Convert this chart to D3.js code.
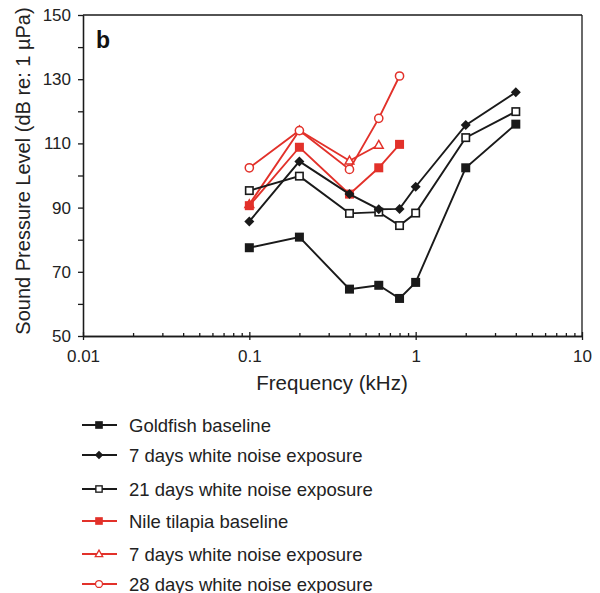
<!DOCTYPE html>
<html>
<head>
<meta charset="utf-8">
<script src="https://cdn.jsdelivr.net/npm/d3@7"></script>
<style>
  body { margin: 0; background: #fff; }
  svg { font-family: "Liberation Sans", Arial, sans-serif; }
  .axis path, .axis line { stroke: #1a1a1a; stroke-width: 1.3; }
  .axis text { font-size: 17px; fill: #222; }
</style>
</head>
<body>
<svg id="chart"></svg>
<script>
// frequencies (kHz)
let freqGold = [0.1, 0.2, 0.4, 0.6, 0.8, 1, 2, 4];
let freqTilapia = [0.1, 0.2, 0.4, 0.6, 0.8];
let freqTil7 = [0.1, 0.2, 0.4, 0.6];

// thresholds (dB re: 1 µPa)
let goldBaseline = [77.5, 80.8, 64.6, 65.8, 61.7, 66.7, 102.4, 116];
let gold7days = [85.7, 104.4, 94.2, 89.5, 89.6, 96.5, 115.7, 125.9];
let gold21days = [95.3, 99.8, 88.2, 88.6, 84.4, 88.3, 111.8, 119.9];
let tilBaseline = [90.6, 108.8, 94.2, 102.4, 109.7];
let til7days = [91, 114, 104.6, 109.5];
let til28days = [102.4, 114, 101.9, 117.8, 131];

let legendNames = ["Goldfish baseline", "7 days white noise exposure", "21 days white noise exposure",
                   "Nile tilapia baseline", "7 days white noise exposure", "28 days white noise exposure"];

let xMajor = [0.01, 0.1, 1, 10];
let yMajor = [50, 70, 90, 110, 130, 150];

let black = "#1a1a1a", red = "#e2312a";

let series = [
  { name: legendNames[0], f: freqGold, v: goldBaseline, color: black, marker: "fsquare" },
  { name: legendNames[1], f: freqGold, v: gold7days, color: black, marker: "diamond" },
  { name: legendNames[2], f: freqGold, v: gold21days, color: black, marker: "osquare" },
  { name: legendNames[3], f: freqTilapia, v: tilBaseline, color: red, marker: "fsquare" },
  { name: legendNames[4], f: freqTil7, v: til7days, color: red, marker: "triangle" },
  { name: legendNames[5], f: freqTilapia, v: til28days, color: red, marker: "circle" }
];
// paint order: red series under the black ones, tilapia baseline over its exposures
let drawOrder = [4, 5, 3, 2, 1, 0];

function drawMarker(g, type, color) {
  if (type === "fsquare") {
    g.append("rect").attr("x", -4.5).attr("y", -4.5).attr("width", 9).attr("height", 9)
      .attr("fill", color);
  } else if (type === "osquare") {
    g.append("rect").attr("x", -3.7).attr("y", -3.7).attr("width", 7.4).attr("height", 7.4)
      .attr("fill", "#fff").attr("stroke", color).attr("stroke-width", 1.6);
  } else if (type === "diamond") {
    g.append("path").attr("d", "M0,-5L5,0L0,5L-5,0Z").attr("fill", color);
  } else if (type === "triangle") {
    g.append("path").attr("d", "M0,-4.6L4.4,3.2L-4.4,3.2Z")
      .attr("fill", "#fff").attr("stroke", color).attr("stroke-width", 1.5);
  } else if (type === "circle") {
    g.append("circle").attr("r", 4.1)
      .attr("fill", "#fff").attr("stroke", color).attr("stroke-width", 1.5);
  }
}

function createChart() {
  let w = 600, h = 593;
  let svg = d3.select("#chart").attr("width", w).attr("height", h);

  let x = d3.scaleLog().domain([0.01, 10]).range([83, 582]);
  let y = d3.scaleLinear().domain([50, 150]).range([336, 15]);

  // box
  svg.append("line").attr("x1", 83).attr("x2", 582).attr("y1", 15).attr("y2", 15)
    .attr("stroke", black).attr("stroke-width", 1.3);
  svg.append("line").attr("x1", 582).attr("x2", 582).attr("y1", 15).attr("y2", 336)
    .attr("stroke", black).attr("stroke-width", 1.3);

  // x axis: minor ticks inside, major ticks crossing
  let minors = [];
  [0.01, 0.1, 1].forEach(d => { for (let k = 2; k <= 9; k++) minors.push(d * k); });
  svg.append("g").attr("class", "axis").attr("transform", "translate(0,336)")
    .call(d3.axisBottom(x).tickValues(minors).tickSizeInner(-3).tickSizeOuter(0).tickFormat(""));
  let xa = svg.append("g").attr("class", "axis").attr("transform", "translate(0,336)")
    .call(d3.axisBottom(x).tickValues(xMajor).tickSizeInner(4).tickSizeOuter(0)
      .tickFormat(d => d3.format("~g")(d)).tickPadding(10));
  xa.selectAll(".tick line").attr("y1", -4);

  // y axis
  let yMinor = d3.range(60, 150, 20);
  svg.append("g").attr("class", "axis").attr("transform", "translate(83,0)")
    .call(d3.axisLeft(y).tickValues(yMinor).tickSizeInner(5).tickSizeOuter(0).tickFormat(""));
  svg.append("g").attr("class", "axis").attr("transform", "translate(83,0)")
    .call(d3.axisLeft(y).tickValues(yMajor).tickSizeInner(5).tickSizeOuter(0).tickPadding(7));

  // axis titles
  svg.append("text").attr("x", 332).attr("y", 390).attr("text-anchor", "middle")
    .attr("font-size", 20.5).attr("fill", "#222").text("Frequency (kHz)");
  svg.append("text").attr("transform", "translate(30,171) rotate(-90)").attr("text-anchor", "middle")
    .attr("font-size", 20).attr("fill", "#222").text("Sound Pressure Level (dB re: 1 µPa)");
  svg.append("text").attr("x", 96).attr("y", 48).attr("font-size", 23).attr("font-weight", "bold")
    .attr("fill", "#111").text("b");

  let line = d3.line().x(d => x(d[0])).y(d => y(d[1]));

  drawOrder.forEach(k => {
    let s = series[k];
    let pts = s.f.map((f, i) => [f, s.v[i]]);
    let g = svg.append("g");
    g.append("path").attr("d", line(pts)).attr("fill", "none")
      .attr("stroke", s.color).attr("stroke-width", 1.9);
    g.selectAll("g.pt").data(pts).enter().append("g").attr("class", "pt")
      .attr("transform", d => `translate(${x(d[0])},${y(d[1])})`)
      .each(function () { drawMarker(d3.select(this), s.marker, s.color); });
  });

  // legend
  let ly = [425, 455, 489, 521, 554, 584];
  series.forEach((s, i) => {
    let g = svg.append("g").attr("transform", `translate(0,${ly[i]})`);
    g.append("line").attr("x1", 82).attr("x2", 117).attr("stroke", s.color).attr("stroke-width", 1.9);
    let m = g.append("g").attr("transform", "translate(99,0) scale(0.85)");
    drawMarker(m, s.marker, s.color);
    g.append("text").attr("x", 129).attr("y", 6.5).attr("font-size", 18.5).attr("fill", "#222").text(s.name);
  });
}

window.onload = function () {
  createChart();
};
</script>
</body>
</html>
